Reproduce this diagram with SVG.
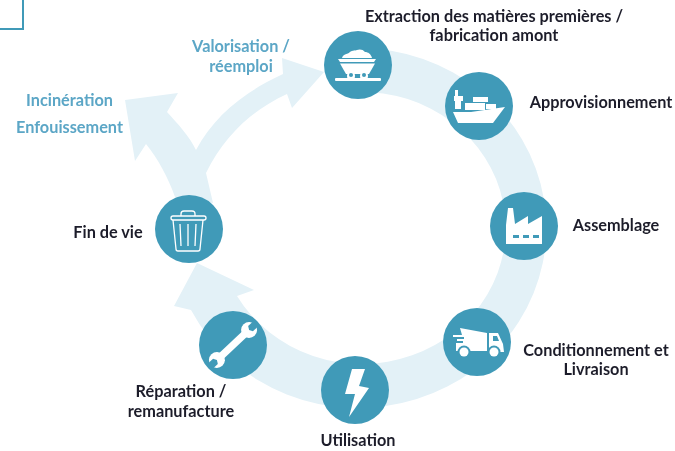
<svg xmlns="http://www.w3.org/2000/svg" width="675" height="451" viewBox="0 0 675 451">
<style>
.disc{fill:#409ab8}
.w{fill:#fff}
.t{fill:#409ab8}
.flow{fill:#e3f1f7}
text{font-family:"Lato","Liberation Sans",sans-serif;font-size:16.3px;font-weight:700;text-anchor:middle}
.lab{fill:#1f1f2b}
.blue{fill:#5ba6c6}
.line{stroke:#fff;fill:none;stroke-width:1.3}
</style>
<defs><filter id="soft" x="0" y="0" width="100%" height="100%"><feGaussianBlur stdDeviation="0.4"/></filter></defs>
<rect width="675" height="451" fill="#fff"/>
<g filter="url(#soft)">
<path d="M-1 29H23V-1" fill="none" stroke="#409ab8" stroke-width="2"/>
<g id="connectors">
<path class="flow" d="M358 48A188 180 0 1 1 191 310L174 306L197 263L254 290L237 296A144 136 0 1 0 358 92Z"/>
<path class="flow" d="M213 203L206 173C224 136 252 110 287 94L292 108L324 72L282 58L283 74C244 92 214 116 196 150C190 137 178 124 167 112L178 93L125 100L135 161L146 144C158 159 168 177 175 197Z"/>
</g>
<g id="node-extraction">
<circle class="disc" cx="358" cy="65" r="34"/>
<g transform="translate(358 65)">
<path class="w" d="M-16-7C-15-11-11-11-9-12C-7-15-3-14-1-15C1-16 5-16 7-13C10-13 13-11 14-7Z"/>
<path class="w" d="M-20-6H18L16-3H-18Z"/>
<path class="w" d="M-18-1.500H17L11 9H-12Z"/>
<circle class="w" cx="-7" cy="11" r="4"/><circle class="w" cx="6" cy="11" r="4"/>
<circle class="t" cx="-7" cy="10" r="2"/><circle class="t" cx="6" cy="10" r="2"/>
<rect class="w" x="-23" y="13" width="46" height="3" rx="1"/>
</g>
<text class="lab" x="494" y="22">Extraction des matières premières /</text>
<text class="lab" x="494" y="41">fabrication amont</text>
</g>
<g id="node-approvisionnement">
<circle class="disc" cx="479" cy="106" r="34"/>
<g transform="translate(479 106)">
<path class="w" d="M-26 6H-8L26 1L14 17H-21Z"/>
<path class="w" d="M-24-10V-16H-21V-10H-16V-5H-18V3H-24V-5H-25V-10Z"/>
<rect class="w" x="-14" y="-3" width="20" height="7"/>
<rect class="w" x="-6" y="-9" width="15" height="5"/>
<path class="w" d="M7-2H17V3H7Z"/>
</g>
<text class="lab" x="601" y="108">Approvisionnement</text>
</g>
<g id="node-assemblage">
<circle class="disc" cx="524" cy="226" r="34"/>
<g transform="translate(524 226)">
<path class="w" d="M-18 18V-1L-16-18H-11L-9-2L4-10V-2L18-10V18Z"/>
<rect class="t" x="-11" y="9" width="6" height="3"/><rect class="t" x="-1" y="9" width="6" height="3"/><rect class="t" x="9" y="9" width="6" height="3"/>
</g>
<text class="lab" x="616" y="231">Assemblage</text>
</g>
<g id="node-conditionnement">
<circle class="disc" cx="477" cy="342" r="34"/>
<g transform="translate(477 342)">
<path class="w" d="M-17-14L10-9V9H-21V1H-14V-1H-20V-3H-13V-5H-24V-7H-15Z"/>
<path class="w" d="M12-9H21L26 2L27 10H12Z"/>
<path class="t" d="M16-6H20L22-1H16Z"/>
<circle class="t" cx="-13" cy="10" r="6.500"/><circle class="w" cx="-13" cy="10" r="4.500"/>
<circle class="t" cx="17" cy="10" r="6.500"/><circle class="w" cx="17" cy="10" r="4.500"/>
</g>
<text class="lab" x="596" y="356">Conditionnement et</text>
<text class="lab" x="596" y="375">Livraison</text>
</g>
<g id="node-utilisation">
<circle class="disc" cx="355" cy="390" r="34"/>
<path class="w" transform="translate(355 390)" d="M-3-21H10L4-4L14-2L-6 27L0 4L-10 4Z"/>
<text class="lab" x="358" y="446">Utilisation</text>
</g>
<g id="node-reparation">
<circle class="disc" cx="233" cy="345" r="34"/>
<g transform="translate(233 345) rotate(-43)">
<rect class="w" x="-18" y="-3.600" width="36" height="7.200"/>
<circle class="w" cx="-22" cy="0" r="8"/><circle class="w" cx="22" cy="0" r="8"/>
<path class="t" d="M-31-3.500H-24L-22 0L-24 3.500H-31Z"/>
<path class="t" d="M31-3.500H24L22 0L24 3.500H31Z"/>
</g>
<text class="lab" x="181" y="397">Réparation /</text>
<text class="lab" x="181" y="417">remanufacture</text>
</g>
<g id="node-fin-de-vie">
<circle class="disc" cx="189" cy="229" r="34"/>
<g transform="translate(189 229)">
<rect class="line" x="-18" y="-13" width="35" height="4" rx="2"/>
<path class="line" d="M-8-13V-15Q-8-18-5-18H3Q6-18 6-15V-13"/>
<path class="line" d="M-16-9L-13 20Q-13 22-11 22H9Q11 22 11 20L14-9"/>
<path class="line" d="M-9-5L-8 17M-1-5V17M7-5L6 17"/>
</g>
<text class="lab" x="108" y="238">Fin de vie</text>
</g>
<g id="label-valorisation">
<text class="blue" x="241" y="52">Valorisation /</text>
<text class="blue" x="241" y="72">réemploi</text>
</g>
<g id="label-elimination">
<text class="blue" x="69.500" y="106">Incinération</text>
<text class="blue" x="69.500" y="133">Enfouissement</text>
</g>
</g>
</svg>
